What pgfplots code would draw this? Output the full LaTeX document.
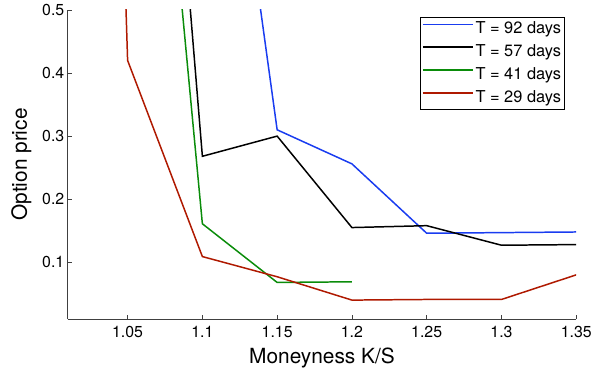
\documentclass[border=0pt]{standalone}
\usepackage{fontspec}
\setmainfont{TeX Gyre Heros}
\usepackage{pgfplots}
\pgfplotsset{compat=1.18}
\usetikzlibrary{calc}
\definecolor{cblue}{RGB}{25,60,240}
\definecolor{cgreen}{RGB}{10,140,10}
\definecolor{cred}{RGB}{175,25,0}
\begin{document}
\begin{tikzpicture}
\begin{axis}[
  name=ax,
  scale only axis,
  width=510bp, height=310bp,
  xmin=1.01, xmax=1.35, ymin=0.01, ymax=0.5,
  axis x line*=bottom, axis y line*=left,
  axis line style={line width=0.6pt, black!75, -},
  xtick={1.05,1.1,1.15,1.2,1.25,1.3,1.35},
  ytick={0.1,0.2,0.3,0.4,0.5},
  xticklabels={1.05,1.1,1.15,1.2,1.25,1.3,1.35},
  yticklabels={0.1,0.2,0.3,0.4,0.5},
  tick align=inside,
  major tick length=4bp,
  tick style={black!75, line width=0.6pt},
  ticklabel style={font=\fontsize{16}{18}\selectfont},
  xticklabel style={yshift=-4bp},
  /pgf/number format/assume math mode=true,
  xlabel={Moneyness K/S},
  ylabel={Option price},
  label style={font=\fontsize{21}{24}\selectfont},
  xlabel style={yshift=-3bp},
  ylabel style={yshift=4bp},
  legend cell align=left,
  legend style={at={(rel axis cs:0.978,0.977)}, anchor=north east,
    draw=black, line width=1pt, font=\fontsize{16.5}{19}\selectfont,
    inner xsep=1.5bp, inner ysep=2bp, row sep=3.5bp,
    nodes={inner sep=2bp, text height=12bp, text depth=3.5bp}},
  legend image code/.code={\draw[#1, line width=1.5pt] (6bp,5bp) -- (56bp,5bp);},
  every axis plot/.append style={line width=1.5pt},
]
\addplot[draw=cblue] coordinates {(1.1,1.17) (1.15,0.310) (1.2,0.256) (1.25,0.146) (1.3,0.147) (1.35,0.148)};
\addlegendentry{T = 92 days}
\addplot[draw=black] coordinates {(1.05,1.71) (1.1,0.268) (1.15,0.300) (1.2,0.155) (1.25,0.158) (1.3,0.127) (1.35,0.128)};
\addlegendentry{T = 57 days}
\addplot[draw=cgreen] coordinates {(1.05,1.42) (1.1,0.161) (1.15,0.068) (1.2,0.069)};
\addlegendentry{T = 41 days}
\addplot[draw=cred] coordinates {(1.0,4.2) (1.05,0.420) (1.1,0.109) (1.15,0.077) (1.2,0.040) (1.25,0.041) (1.3,0.041) (1.35,0.080)};
\addlegendentry{T = 29 days}
\end{axis}
\path[use as bounding box] ($(ax.south west)+(-68bp,-60bp)$) rectangle ($(ax.north east)+(17bp,10bp)$);
\end{tikzpicture}
\end{document}
